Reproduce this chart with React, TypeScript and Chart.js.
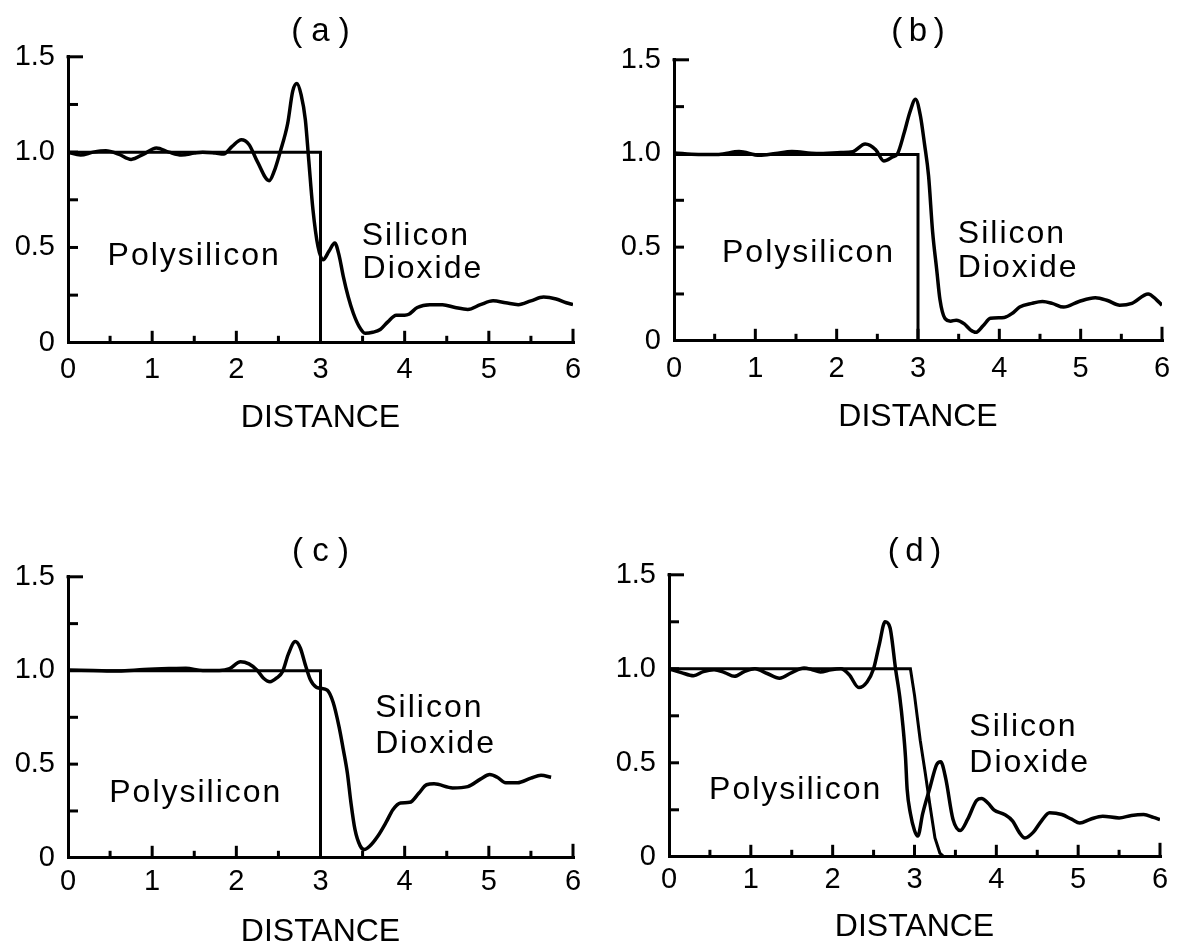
import React, { useEffect, useRef } from "react";
import { Chart, registerables } from "chart.js";

Chart.register(...registerables);

// ---------- axis ticks / labels ----------
const X_TICKS = [0, 1, 2, 3, 4, 5, 6];
const X_TICK_LABELS = ["0", "1", "2", "3", "4", "5", "6"];
const Y_TICKS = [0, 0.5, 1.0, 1.5];
const Y_TICK_LABELS = ["0", "0.5", "1.0", "1.5"];
const X_MAJOR_MARKS = [1, 2, 3, 4, 5, 6];
const X_MINOR_MARKS = [0.5, 1.5, 2.5, 3.5, 4.5, 5.5];
const Y_MARKS = [0.25, 0.5, 0.75, 1.0, 1.25];
const Y_TOP_MARK = 1.5;
const AXIS_TITLE = "DISTANCE";
const PANEL_TITLES = ["( a )", "(\u2009b\u2009)", "( c )", "(\u2009d\u2009)"];

// ---------- panel (a) ----------
const A_STEP_X = [0, 3, 3];
const A_STEP_Y = [1, 1, 0];
const A_X = [0, 0.15, 0.3, 0.45, 0.6, 0.75, 0.9, 1.05, 1.2, 1.35, 1.5, 1.6, 1.75, 1.85, 1.95, 2.06, 2.15, 2.25, 2.39, 2.45, 2.52, 2.61, 2.67, 2.72, 2.77, 2.82, 2.86, 2.91, 2.97, 3.03, 3.1, 3.17, 3.22, 3.27, 3.33, 3.39, 3.46, 3.53, 3.62, 3.71, 3.8, 3.9, 4.0, 4.05, 4.15, 4.3, 4.45, 4.6, 4.75, 4.9, 5.05, 5.2, 5.35, 5.5, 5.65, 5.8, 5.92, 6.0];
const A_Y = [1.0, 0.985, 1.0, 1.007, 0.99, 0.962, 0.99, 1.022, 1.0, 0.985, 0.995, 1.0, 0.995, 0.99, 1.03, 1.065, 1.04, 0.95, 0.85, 0.9, 1.0, 1.15, 1.32, 1.36, 1.3, 1.17, 0.96, 0.7, 0.505, 0.435, 0.48, 0.523, 0.46, 0.35, 0.24, 0.155, 0.085, 0.05, 0.055, 0.07, 0.11, 0.145, 0.145, 0.15, 0.185, 0.2, 0.2, 0.185, 0.175, 0.2, 0.22, 0.21, 0.2, 0.22, 0.24, 0.23, 0.21, 0.2];

// ---------- panel (b) ----------
const B_STEP_X = [0, 3, 3];
const B_STEP_Y = [0.995, 0.995, 0];
const B_X = [0, 0.3, 0.55, 0.8, 1.05, 1.25, 1.45, 1.75, 2.05, 2.2, 2.35, 2.48, 2.58, 2.68, 2.75, 2.83, 2.9, 2.97, 3.03, 3.08, 3.13, 3.18, 3.23, 3.27, 3.33, 3.4, 3.47, 3.57, 3.64, 3.71, 3.8, 3.89, 4.06, 4.17, 4.25, 4.4, 4.53, 4.65, 4.79, 4.98, 5.18, 5.33, 5.48, 5.63, 5.83, 5.93, 6.0];
const B_Y = [1.003, 0.995, 0.995, 1.01, 0.99, 1.0, 1.01, 1.0, 1.005, 1.01, 1.05, 1.02, 0.96, 0.98, 1.0, 1.11, 1.22, 1.29, 1.2, 1.05, 0.88, 0.58, 0.38, 0.22, 0.12, 0.105, 0.11, 0.09, 0.06, 0.045, 0.08, 0.12, 0.125, 0.15, 0.18, 0.2, 0.21, 0.2, 0.18, 0.21, 0.23, 0.215, 0.19, 0.2, 0.25, 0.22, 0.19];

// ---------- panel (c) ----------
const C_STEP_X = [0, 3, 3];
const C_STEP_Y = [0.998, 0.998, 0];
const C_X = [0, 0.3, 0.6, 0.9, 1.2, 1.4, 1.6, 1.8, 1.92, 2.05, 2.15, 2.25, 2.32, 2.4, 2.48, 2.55, 2.62, 2.7, 2.76, 2.82, 2.88, 2.95, 3.0, 3.08, 3.15, 3.22, 3.27, 3.32, 3.36, 3.41, 3.47, 3.52, 3.58, 3.68, 3.78, 3.86, 3.95, 4.06, 4.17, 4.26, 4.35, 4.57, 4.75, 4.9, 5.01, 5.1, 5.2, 5.34, 5.5, 5.62, 5.74];
const C_Y = [1.003, 1.0, 0.997, 1.005, 1.01, 1.012, 1.0, 1.0, 1.01, 1.047, 1.035, 1.0, 0.96, 0.94, 0.96, 0.995, 1.09, 1.154, 1.12, 1.03, 0.95, 0.91, 0.905, 0.895, 0.83, 0.7, 0.58, 0.45, 0.3, 0.15, 0.065, 0.044, 0.06, 0.115, 0.19, 0.257, 0.293, 0.296, 0.346, 0.39, 0.395, 0.373, 0.38, 0.42, 0.444, 0.43, 0.4, 0.4, 0.425, 0.44, 0.43];

// ---------- panel (d) ----------
const D_STEP_X = [0, 2.95, 3.0, 3.07, 3.13, 3.19, 3.25, 3.31, 3.36];
const D_STEP_Y = [1.0, 1.0, 0.86, 0.62, 0.45, 0.27, 0.1, 0.02, 0];
const D_X = [0, 0.15, 0.3, 0.42, 0.55, 0.68, 0.8, 0.92, 1.05, 1.2, 1.35, 1.5, 1.65, 1.75, 1.85, 1.98, 2.1, 2.2, 2.32, 2.42, 2.5, 2.57, 2.64, 2.7, 2.77, 2.82, 2.86, 2.89, 2.91, 2.95, 3.0, 3.04, 3.1, 3.19, 3.27, 3.32, 3.38, 3.47, 3.56, 3.65, 3.76, 3.82, 3.9, 3.97, 4.1, 4.2, 4.28, 4.35, 4.45, 4.55, 4.65, 4.8, 4.92, 5.02, 5.15, 5.3, 5.5, 5.65, 5.8, 5.92, 6.0];
const D_Y = [1.0, 0.98, 0.963, 0.985, 0.995, 0.98, 0.96, 0.985, 1.0, 0.975, 0.95, 0.98, 1.004, 0.995, 0.983, 0.995, 1.0, 0.97, 0.9, 0.93, 1.0, 1.13, 1.25, 1.22, 0.995, 0.85, 0.69, 0.53, 0.36, 0.23, 0.14, 0.11, 0.23, 0.37, 0.49, 0.505, 0.42, 0.2, 0.14, 0.2, 0.3, 0.31, 0.285, 0.25, 0.225, 0.19, 0.13, 0.1, 0.13, 0.19, 0.234, 0.225, 0.2, 0.18, 0.2, 0.216, 0.207, 0.22, 0.225, 0.21, 0.198];

// ---------- annotation texts (data coordinates) ----------
const LABEL_TEXTS = ["Polysilicon", "Silicon", "Dioxide"];
const A_LABEL_X = [0.47, 3.49, 3.5];
const A_LABEL_Y = [0.41, 0.514, 0.34];
const B_LABEL_X = [0.59, 3.49, 3.49];
const B_LABEL_Y = [0.42, 0.52, 0.34];
const C_LABEL_X = [0.49, 3.65, 3.65];
const C_LABEL_Y = [0.3, 0.75, 0.56];
const D_LABEL_X = [0.49, 3.67, 3.67];
const D_LABEL_Y = [0.31, 0.64, 0.45];

const FONT = "'Liberation Sans', Arial, Helvetica, sans-serif";

const toPts = (xs: number[], ys: number[]) => xs.map((x, i) => ({ x, y: ys[i] }));

// layout (pixel boxes of each plot area)
const PANELS = [
  { title: PANEL_TITLES[0], area: { L: 68, T: 57, R: 573, B: 343 }, titleY: 32, xLabelPad: 27, xTitleOffset: 75, stepX: A_STEP_X, stepY: A_STEP_Y, cx: A_X, cy: A_Y, lx: A_LABEL_X, ly: A_LABEL_Y },
  { title: PANEL_TITLES[1], area: { L: 674, T: 60, R: 1162, B: 341 }, titleY: 32, xLabelPad: 28, xTitleOffset: 76, stepX: B_STEP_X, stepY: B_STEP_Y, cx: B_X, cy: B_Y, lx: B_LABEL_X, ly: B_LABEL_Y },
  { title: PANEL_TITLES[2], area: { L: 68, T: 577, R: 573, B: 858 }, titleY: 552, xLabelPad: 24, xTitleOffset: 74, stepX: C_STEP_X, stepY: C_STEP_Y, cx: C_X, cy: C_Y, lx: C_LABEL_X, ly: C_LABEL_Y },
  { title: PANEL_TITLES[3], area: { L: 669, T: 575, R: 1160, B: 857 }, titleY: 552, xLabelPad: 23, xTitleOffset: 70, stepX: D_STEP_X, stepY: D_STEP_Y, cx: D_X, cy: D_Y, lx: D_LABEL_X, ly: D_LABEL_Y },
];

const WY = 68;
const PAD_R = 24;
const TITLE_SIZE = 33;
const TITLE_HALF = (TITLE_SIZE * 1.2) / 2;
const TITLE_PAD_TOP = 4;
const TICK_SIZE = 29;
const TICK_HALF = (TICK_SIZE * 1.2) / 2;
const XT_SIZE = 32;
const XT_HALF = (XT_SIZE * 1.2) / 2;
const XT_PAD_B = 4;

function Panel({ p }: { p: (typeof PANELS)[number] }) {
  const ref = useRef<HTMLCanvasElement>(null);
  const { L, T, R, B } = p.area;
  const left = L - WY;
  const top = p.titleY - TITLE_PAD_TOP - TITLE_HALF;
  const titlePadBottom = T - p.titleY - TITLE_HALF;
  const width = R + PAD_R - left;
  const Hx = p.xTitleOffset + XT_HALF + XT_PAD_B;
  const height = B + Hx - top;

  useEffect(() => {
    const innerTicks = {
      id: "innerTicks",
      afterDatasetsDraw(chart: any) {
        const { ctx } = chart;
        const xs = chart.scales.x;
        const ys = chart.scales.y;
        const by = ys.getPixelForValue(0);
        const lx = xs.getPixelForValue(0);
        ctx.save();
        ctx.strokeStyle = "#000";
        ctx.lineWidth = 3;
        ctx.lineCap = "butt";
        const seg = (x1: number, y1: number, x2: number, y2: number) => {
          ctx.beginPath();
          ctx.moveTo(x1, y1);
          ctx.lineTo(x2, y2);
          ctx.stroke();
        };
        X_MAJOR_MARKS.forEach((v) => {
          const px = xs.getPixelForValue(v);
          seg(px, by, px, by - (v === 6 ? 14 : 12));
        });
        X_MINOR_MARKS.forEach((v) => {
          const px = xs.getPixelForValue(v);
          seg(px, by, px, by - 7);
        });
        Y_MARKS.forEach((v) => {
          const py = ys.getPixelForValue(v);
          seg(lx, py, lx + 10, py);
        });
        const ty = ys.getPixelForValue(Y_TOP_MARK);
        seg(lx - 1.5, ty, lx + 15, ty);
        ctx.restore();
      },
    };
    const annotations = {
      id: "annotations",
      afterDatasetsDraw(chart: any) {
        const { ctx } = chart;
        const xs = chart.scales.x;
        const ys = chart.scales.y;
        ctx.save();
        ctx.fillStyle = "#000";
        ctx.font = `32px ${FONT}`;
        (ctx as any).letterSpacing = "2px";
        ctx.textAlign = "left";
        ctx.textBaseline = "alphabetic";
        LABEL_TEXTS.forEach((t, i) => {
          ctx.fillText(t, xs.getPixelForValue(p.lx[i]), ys.getPixelForValue(p.ly[i]));
        });
        ctx.restore();
      },
    };

    const chart = new Chart(ref.current as HTMLCanvasElement, {
      type: "line",
      data: {
        datasets: [
          {
            data: toPts(p.stepX, p.stepY),
            borderColor: "#000",
            borderWidth: 3,
            pointRadius: 0,
            tension: 0,
            fill: false,
          },
          {
            data: toPts(p.cx, p.cy),
            borderColor: "#000",
            borderWidth: 3.5,
            pointRadius: 0,
            cubicInterpolationMode: "monotone",
            fill: false,
          },
        ],
      },
      options: {
        responsive: false,
        animation: false,
        events: [],
        layout: { padding: { left: 0, top: 0, right: PAD_R, bottom: 0 } },
        plugins: {
          legend: { display: false },
          tooltip: { enabled: false },
          title: {
            display: true,
            text: p.title,
            fullSize: false,
            color: "#000",
            font: { family: FONT, size: TITLE_SIZE, weight: "normal" },
            padding: { top: TITLE_PAD_TOP, bottom: titlePadBottom },
          },
        },
        scales: {
          x: {
            type: "linear",
            min: 0,
            max: 6,
            afterBuildTicks: (s: any) => {
              s.ticks = X_TICKS.map((v) => ({ value: v }));
            },
            ticks: {
              callback: (v: any) => X_TICK_LABELS[X_TICKS.indexOf(Number(v))],
              padding: p.xLabelPad - TICK_HALF,
              color: "#000",
              font: { family: FONT, size: TICK_SIZE },
              maxRotation: 0,
              autoSkip: false,
            },
            grid: { display: true, drawOnChartArea: false, drawTicks: false, lineWidth: 3 },
            border: { display: true, color: "#000", width: 3 },
            title: {
              display: true,
              text: AXIS_TITLE,
              color: "#000",
              font: { family: FONT, size: XT_SIZE },
              padding: { top: 0, bottom: XT_PAD_B },
            },
            afterFit: (s: any) => {
              s.height = Hx;
              s.paddingLeft = 0;
              s.paddingRight = 0;
            },
          },
          y: {
            type: "linear",
            min: 0,
            max: 1.5,
            afterBuildTicks: (s: any) => {
              s.ticks = Y_TICKS.map((v) => ({ value: v }));
            },
            ticks: {
              callback: (v: any) => Y_TICK_LABELS[Y_TICKS.indexOf(Number(v))],
              padding: 13,
              color: "#000",
              font: { family: FONT, size: TICK_SIZE },
              autoSkip: false,
            },
            grid: { display: true, drawOnChartArea: false, drawTicks: false, lineWidth: 3 },
            border: { display: true, color: "#000", width: 3 },
            afterFit: (s: any) => {
              s.width = WY;
              s.paddingTop = 0;
              s.paddingBottom = 0;
            },
          },
        },
      } as any,
      plugins: [innerTicks, annotations],
    });
    return () => chart.destroy();
  }, []);

  return (
    <canvas
      ref={ref}
      width={width}
      height={height}
      style={{ position: "absolute", left, top, width, height }}
    />
  );
}

export default function App() {
  return (
    <div style={{ position: "absolute", left: 0, top: 0, width: 1180, height: 945, background: "#fff", overflow: "hidden" }}>
      {PANELS.map((p, i) => (
        <Panel key={i} p={p} />
      ))}
    </div>
  );
}
